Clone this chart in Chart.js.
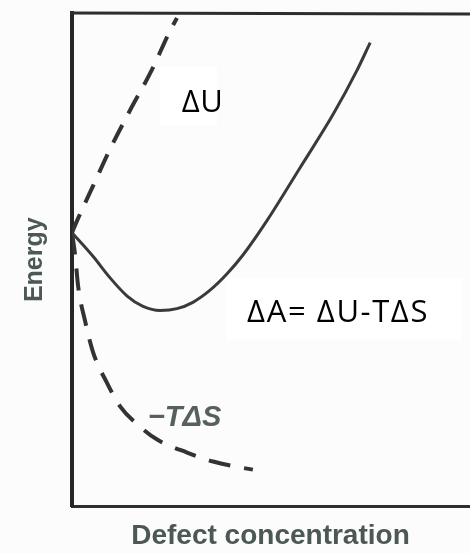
<!DOCTYPE html>
<html>
<head>
<meta charset="utf-8">
<script src="https://cdn.jsdelivr.net/npm/chart.js@4.4.1/dist/chart.umd.min.js"></script>
<style>
  html, body { margin: 0; padding: 0; background: #fbfcfb; }
  canvas { display: block; }
</style>
</head>
<body>
<canvas id="energy" width="470" height="553"></canvas>
<script>
// defect concentration (arb. units) against energy for each term
const duX = [0, 0.11, 0.48, 0.86, 1.31, 1.81, 2.22, 2.38]
const duY = [0, 0.26, 1.05, 1.86, 2.72, 3.63, 4.50, 4.79]

const daX = [0, 0.48, 0.86, 1.25, 1.61, 2.0, 2.38, 2.74, 3.13, 3.51, 3.88, 4.42, 5.17, 5.92, 6.46, 6.76]
const daY = [0, -0.53, -1.0, -1.41, -1.64, -1.73, -1.69, -1.55, -1.28, -0.92, -0.49, 0.27, 1.45, 2.64, 3.62, 4.24]

const tsX = [0, 0.07, 0.14, 0.29, 0.48, 0.79, 1.09, 1.54, 1.93, 2.61, 3.20, 3.81, 4.10]
const tsY = [0, -0.49, -1.20, -1.94, -2.67, -3.34, -3.87, -4.32, -4.61, -4.90, -5.10, -5.23, -5.28]

const pts = (xs, ys) => xs.map((x, i) => ({ x, y: ys[i] }))

const ink = '#333'
const scanGray = '#4c5854'

// curve names, anchored in data units (left edge, baseline)
const notes = [
  { text: 'ΔU', x: 2.49, y: 2.69, box: [2.0, 3.70, 3.29, 2.40], font: '31px "Open Sans"', color: '#000', spacing: '0.5px' },
  { text: 'ΔA= ΔU-TΔS', x: 3.97, y: -2.0, box: [3.49, -1.0, 8.84, -2.38], font: '31px "Open Sans"', color: '#000', spacing: '1.6px' },
  { text: '−TΔS', x: 1.72, y: -4.3, font: 'italic bold 29px "Liberation Sans"', color: '#56605c', spacing: '0px' }
]

const notesPlugin = {
  id: 'notes',
  afterDatasetsDraw(chart) {
    const { ctx, scales: { x, y } } = chart
    ctx.save()
    for (const n of notes) {
      if (n.box) {
        const [x0, y0, x1, y1] = n.box
        ctx.fillStyle = '#fff'
        ctx.fillRect(x.getPixelForValue(x0), y.getPixelForValue(y0),
          x.getPixelForValue(x1) - x.getPixelForValue(x0), y.getPixelForValue(y1) - y.getPixelForValue(y0))
      }
    }
    ctx.textBaseline = 'alphabetic'
    ctx.textAlign = 'left'
    for (const n of notes) {
      ctx.font = n.font
      ctx.letterSpacing = n.spacing
      ctx.fillStyle = n.color
      ctx.fillText(n.text, x.getPixelForValue(n.x), y.getPixelForValue(n.y))
    }
    ctx.restore()
  },
  afterDraw(chart) {
    // top edge of the frame, running off the right side
    const { ctx, chartArea } = chart
    ctx.save()
    ctx.strokeStyle = '#2e2e2e'
    ctx.lineWidth = 3
    ctx.beginPath()
    ctx.moveTo(chartArea.left - 2, chartArea.top)
    ctx.lineTo(chart.width, chartArea.top + 1)
    ctx.stroke()
    ctx.restore()
  }
}

const titleFont = { family: 'Liberation Sans', weight: 'bold' }

new Chart(document.getElementById('energy'), {
  type: 'line',
  data: {
    datasets: [
      { label: 'ΔU', data: pts(duX, duY), borderColor: ink, borderWidth: 4, borderDash: [20, 13] },
      { label: 'ΔA', data: pts(daX, daY), borderColor: '#3a3a3a', borderWidth: 3 },
      { label: '-TΔS', data: pts(tsX, tsY), borderColor: ink, borderWidth: 4, borderDash: [22, 14] }
    ]
  },
  options: {
    responsive: false,
    animation: false,
    layout: { padding: { top: 13, right: 1, left: 0, bottom: 0 } },
    elements: {
      point: { radius: 0 },
      line: { cubicInterpolationMode: 'monotone', fill: false }
    },
    plugins: { legend: { display: false }, tooltip: { enabled: false } },
    scales: {
      x: {
        type: 'linear', min: 0, max: 9,
        ticks: { display: false },
        grid: { display: false, drawTicks: false },
        border: { color: '#2e2e2e', width: 3 },
        title: {
          display: true, text: 'Defect concentration', color: scanGray,
          font: { ...titleFont, size: 28 }, padding: { top: 13, bottom: 0 }
        }
      },
      y: {
        type: 'linear', min: -6.1, max: 4.9,
        ticks: { display: false },
        grid: { display: false, drawTicks: false },
        border: { color: '#262626', width: 4 },
        title: {
          display: true, text: 'Energy', color: scanGray,
          font: { ...titleFont, size: 25 }, padding: { top: 20, bottom: 22 }
        }
      }
    }
  },
  plugins: [notesPlugin]
})
</script>
</body>
</html>
